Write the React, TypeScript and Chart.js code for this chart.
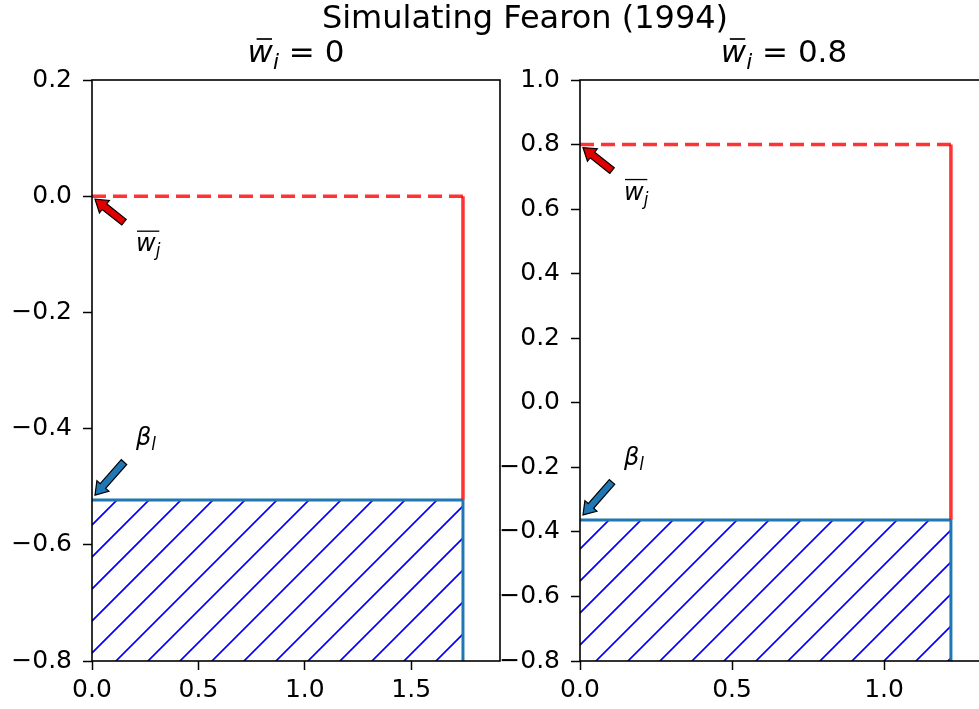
import React, { useEffect, useRef } from 'react';
import { Chart, registerables } from 'chart.js';
Chart.register(...registerables);

// ---------------- data ----------------
const suptitle = 'Simulating Fearon (1994)';
const panelTitleValues = ['0', '0.8'];
const panelWbar = [0, 0.8];
const panelBeta = [-0.523, -0.363];
const panelWidth = [1.743, 1.22];
const panelXMax = [1.917, 1.342];
const panelYMin = [-0.8, -0.8];
const panelYMax = [0.2, 1.0];
const xTicksLeft = [0, 0.5, 1.0, 1.5];
const xTicksRight = [0, 0.5, 1.0];
const yTicksLeft = [-0.8, -0.6, -0.4, -0.2, 0.0, 0.2];
const yTicksRight = [-0.8, -0.6, -0.4, -0.2, 0.0, 0.2, 0.4, 0.6, 0.8, 1.0];

// ---------------- style ----------------
const FONT = '"DejaVu Sans"';
const RED = 'rgba(255,0,0,0.8)';
const EDGE = '#1f77b4';
const HATCH = '#0000ff';
const HATCH_STEP = 32;
const HATCH_PHASE = 9;

type Part = { t: string; it?: boolean; sub?: boolean; bar?: boolean };

function fontFor(p: Part, size: number) {
  const s = p.sub ? size * 0.7 : size;
  return `${p.it ? 'italic ' : ''}${s}px ${FONT}`;
}

function drawMath(
  ctx: CanvasRenderingContext2D,
  parts: Part[],
  x: number,
  y: number,
  size: number,
  align: 'left' | 'center',
  barRise: number,
  barShift: number,
  barShrink: number
) {
  ctx.save();
  ctx.textBaseline = 'alphabetic';
  ctx.textAlign = 'left';
  ctx.fillStyle = '#000';
  const widths = parts.map((p) => {
    ctx.font = fontFor(p, size);
    return ctx.measureText(p.t).width;
  });
  const total = widths.reduce((a, b) => a + b, 0);
  let cx = align === 'center' ? x - total / 2 : x;
  let b0 = Infinity;
  let b1 = -Infinity;
  parts.forEach((p, i) => {
    ctx.font = fontFor(p, size);
    const dy = p.sub ? size * 0.22 : 0;
    ctx.fillText(p.t, cx, y + dy);
    if (p.bar) {
      b0 = Math.min(b0, cx);
      b1 = Math.max(b1, cx + widths[i]);
    }
    cx += widths[i];
  });
  if (b1 > b0) {
    ctx.strokeStyle = '#000';
    ctx.lineWidth = Math.max(1.3, size * 0.055);
    ctx.beginPath();
    ctx.moveTo(b0 + barShift + barShrink, y - barRise);
    ctx.lineTo(b1 + barShift - barShrink, y - barRise);
    ctx.stroke();
  }
  ctx.restore();
}

function drawArrow(
  ctx: CanvasRenderingContext2D,
  tail: [number, number],
  tip: [number, number],
  fill: string
) {
  const dx = tip[0] - tail[0];
  const dy = tip[1] - tail[1];
  const L = Math.hypot(dx, dy);
  const ux = dx / L;
  const uy = dy / L;
  const nx = -uy;
  const ny = ux;
  const bw = 3.6;
  const hw = 8;
  const hl = 12;
  const neck = [tip[0] - ux * hl, tip[1] - uy * hl];
  ctx.save();
  ctx.beginPath();
  ctx.moveTo(tail[0] + nx * bw, tail[1] + ny * bw);
  ctx.lineTo(neck[0] + nx * bw, neck[1] + ny * bw);
  ctx.lineTo(neck[0] + nx * hw, neck[1] + ny * hw);
  ctx.lineTo(tip[0], tip[1]);
  ctx.lineTo(neck[0] - nx * hw, neck[1] - ny * hw);
  ctx.lineTo(neck[0] - nx * bw, neck[1] - ny * bw);
  ctx.lineTo(tail[0] - nx * bw, tail[1] - ny * bw);
  ctx.closePath();
  ctx.fillStyle = fill;
  ctx.fill();
  ctx.strokeStyle = '#000';
  ctx.lineWidth = 1.2;
  ctx.stroke();
  ctx.restore();
}

function fmtTick(v: number) {
  const s = Math.abs(v) < 1e-9 ? '0.0' : v.toFixed(1);
  return s.replace('-', '\u2212');
}

function buildChart(
  canvas: HTMLCanvasElement,
  idx: number,
  xTicks: number[],
  yTicks: number[],
  padding: { left: number; right: number; top: number; bottom: number },
  yWidth: number,
  withSuptitle: boolean
) {
  const w = panelWidth[idx];
  const wb = panelWbar[idx];
  const be = panelBeta[idx];
  const ymin = panelYMin[idx];

  const decor = {
    id: 'decor' + idx,
    beforeDatasetsDraw(chart: any) {
      // hatch of the bar, in scale coordinates
      const ctx: CanvasRenderingContext2D = chart.ctx;
      const xs = chart.scales.x;
      const ys = chart.scales.y;
      const l = xs.getPixelForValue(0);
      const r = xs.getPixelForValue(w);
      const t = ys.getPixelForValue(be);
      const b = ys.getPixelForValue(ymin);
      ctx.save();
      ctx.beginPath();
      ctx.rect(l, t, r - l, b - t);
      ctx.clip();
      ctx.strokeStyle = HATCH;
      ctx.lineWidth = 1.7;
      const cMin = l + t;
      const cMax = r + b;
      let c = Math.floor((cMin - HATCH_PHASE) / HATCH_STEP) * HATCH_STEP + HATCH_PHASE;
      ctx.beginPath();
      for (; c <= cMax + HATCH_STEP; c += HATCH_STEP) {
        ctx.moveTo(c - (b + 5), b + 5);
        ctx.lineTo(c - (t - 5), t - 5);
      }
      ctx.stroke();
      ctx.restore();
    },
    afterDatasetsDraw(chart: any) {
      const ctx: CanvasRenderingContext2D = chart.ctx;
      const a = chart.chartArea;
      ctx.save();
      ctx.strokeStyle = '#000';
      ctx.lineWidth = 1.6;
      ctx.strokeRect(a.left, a.top, a.right - a.left, a.bottom - a.top);
      ctx.restore();
      const xs = chart.scales.x;
      const ys = chart.scales.y;
      const pw = [xs.getPixelForValue(0), ys.getPixelForValue(wb)];
      const pb = [xs.getPixelForValue(0), ys.getPixelForValue(be)];
      drawArrow(ctx, [pw[0] + 32, pw[1] + 26], [pw[0] + 3, pw[1] + 3], '#e00000');
      drawArrow(ctx, [pb[0] + 32, pb[1] - 38], [pb[0] + 3, pb[1] - 5], EDGE);
      drawMath(
        ctx,
        [
          { t: 'w', it: true, bar: true },
          { t: 'j', it: true, sub: true, bar: true },
        ],
        pw[0] + 44,
        pw[1] + 55,
        24,
        'left',
        20,
        0,
        1
      );
      drawMath(
        ctx,
        [
          { t: 'β', it: true },
          { t: 'l', it: true, sub: true },
        ],
        pb[0] + 44,
        pb[1] - 55,
        24,
        'left',
        0,
        0,
        0
      );
      const cxTitle = (a.left + a.right) / 2;
      drawMath(
        ctx,
        [
          { t: 'w', it: true, bar: true },
          { t: 'i', it: true, sub: true },
          { t: ' = ' + panelTitleValues[idx] },
        ],
        cxTitle,
        62,
        31,
        'center',
        23,
        4,
        5
      );
      if (withSuptitle) {
        ctx.save();
        ctx.font = `32px ${FONT}`;
        ctx.fillStyle = '#000';
        ctx.textAlign = 'center';
        ctx.textBaseline = 'alphabetic';
        ctx.fillText(suptitle, 525, 28);
        ctx.restore();
      }
    },
  };

  return new Chart(canvas, {
    type: 'line',
    data: {
      datasets: [
        {
          data: [
            { x: w, y: wb },
            { x: w, y: be },
          ],
          borderColor: RED,
          borderWidth: 3.5,
          fill: false,
        },
        {
          data: [
            { x: 0, y: wb },
            { x: w, y: wb },
          ],
          borderColor: RED,
          borderWidth: 3.5,
          borderDash: [14, 7],
          fill: false,
        },
        {
          data: [
            { x: w, y: ymin },
            { x: w, y: be },
          ],
          borderColor: EDGE,
          borderWidth: 3,
          fill: false,
        },
        {
          data: [
            { x: 0, y: be },
            { x: w, y: be },
          ],
          borderColor: EDGE,
          borderWidth: 3,
          fill: false,
        },
      ],
    },
    options: {
      responsive: false,
      animation: false,
      devicePixelRatio: 1,
      events: [],
      layout: { padding },
      elements: { point: { radius: 0 }, line: { tension: 0 } },
      plugins: { legend: { display: false }, tooltip: { enabled: false }, title: { display: false } },
      scales: {
        x: {
          type: 'linear',
          min: 0,
          max: panelXMax[idx],
          afterBuildTicks: (s: any) => {
            s.ticks = xTicks.map((v) => ({ value: v }));
          },
          afterFit: (s: any) => {
            s.height = 48;
          },
          ticks: {
            callback: (v: any) => fmtTick(Number(v)),
            font: { family: 'DejaVu Sans', size: 25 },
            color: '#000',
            padding: 5,
            maxRotation: 0,
            autoSkip: false,
          },
          grid: {
            display: true,
            drawOnChartArea: false,
            drawTicks: true,
            tickLength: 9,
            tickWidth: 1.5,
            tickColor: '#000',
          },
          border: { display: false },
        },
        y: {
          type: 'linear',
          min: panelYMin[idx],
          max: panelYMax[idx],
          afterBuildTicks: (s: any) => {
            s.ticks = yTicks.map((v) => ({ value: v }));
          },
          afterFit: (s: any) => {
            s.width = yWidth;
          },
          ticks: {
            callback: (v: any) => fmtTick(Number(v)),
            font: { family: 'DejaVu Sans', size: 25 },
            color: '#000',
            padding: 11,
            autoSkip: false,
          },
          grid: {
            display: true,
            drawOnChartArea: false,
            drawTicks: true,
            tickLength: 9,
            tickWidth: 1.5,
            tickColor: '#000',
          },
          border: { display: false },
        },
      },
    },
    plugins: [decor],
  } as any);
}

export default function App() {
  const leftRef = useRef<HTMLCanvasElement>(null);
  const rightRef = useRef<HTMLCanvasElement>(null);

  useEffect(() => {
    if (!leftRef.current || !rightRef.current) return;
    const c1 = buildChart(
      leftRef.current,
      0,
      xTicksLeft,
      yTicksLeft,
      { left: 0, right: 979 - 500, top: 80, bottom: 0 },
      92,
      true
    );
    const c2 = buildChart(
      rightRef.current,
      1,
      xTicksRight,
      yTicksRight,
      { left: 0, right: 1010 - 988, top: 80, bottom: 0 },
      580,
      false
    );
    return () => {
      c1.destroy();
      c2.destroy();
    };
  }, []);

  return (
    <div
      style={{
        position: 'fixed',
        left: 0,
        top: 0,
        width: 979,
        height: 709,
        overflow: 'hidden',
        background: '#fff',
      }}
    >
      <canvas
        ref={rightRef}
        width={1010}
        height={709}
        style={{ position: 'absolute', left: 0, top: 0, width: 1010, height: 709 }}
      />
      <canvas
        ref={leftRef}
        width={979}
        height={709}
        style={{ position: 'absolute', left: 0, top: 0, width: 979, height: 709 }}
      />
    </div>
  );
}
